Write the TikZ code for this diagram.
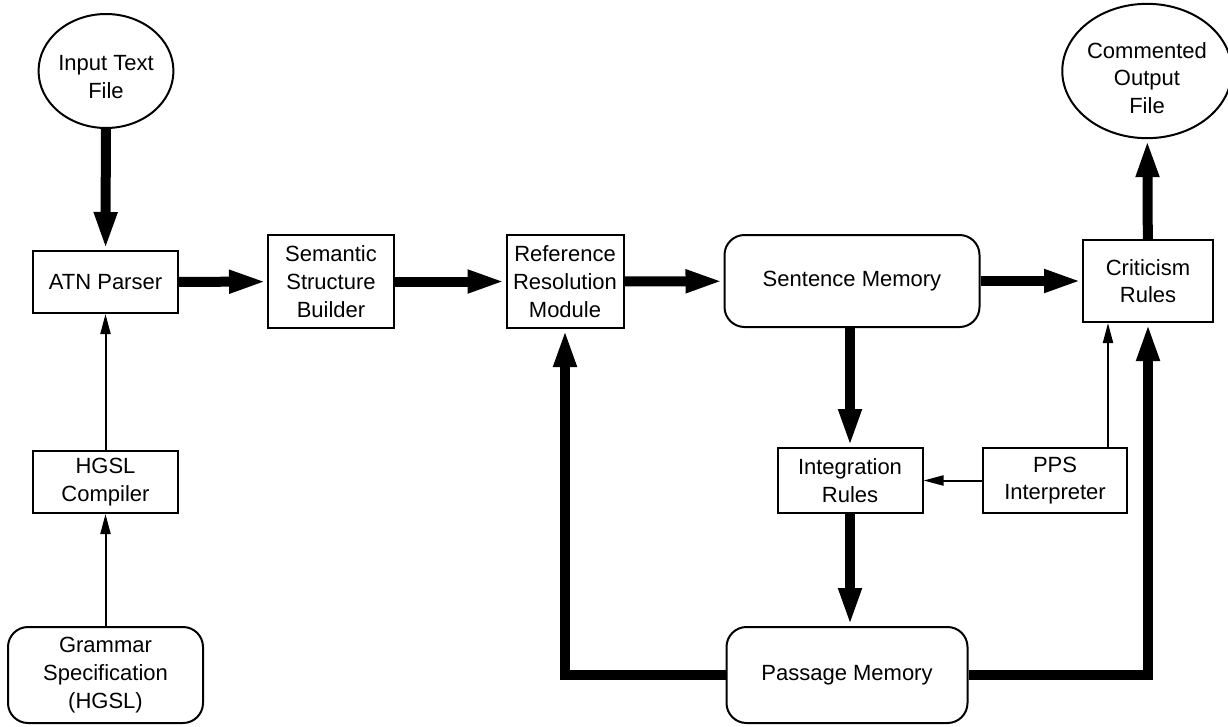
\documentclass[tikz,border=0pt]{standalone}
\usepackage{fontspec}
\setmainfont{Liberation Sans}
\usetikzlibrary{shapes.geometric,arrows.meta}
\tikzset{
  box/.style={draw,line width=2pt,align=center,inner sep=0pt},
  rbox/.style={box,rounded corners=20pt},
  oval/.style={draw,ellipse,line width=2pt,align=center,inner sep=0pt,text depth=5pt},
  bigarrow/.style={line width=10pt,-{Triangle[length=38pt,width=21pt]}},
  thinarrow/.style={line width=2pt,-{Triangle[length=20pt,width=10pt]}}
}
\begin{document}
\begin{tikzpicture}[x=1pt,y=-1pt,font=\fontsize{22}{27.7}\selectfont]
    \useasboundingbox (0,0) rectangle (1228,726);
    \node[oval,minimum width=128pt,minimum height=114pt,text height=60pt] (inp) at (106,71) {Input Text\\File};
    \node[oval,minimum width=158pt,minimum height=132pt,text height=90pt] (out) at (1147,71) {Commented\\Output\\File};
    \node[box,minimum width=145pt,minimum height=62pt] (atn) at (105.5,282) {ATN Parser};
    \node[box,minimum width=126pt,minimum height=93pt] (sem) at (331,281.5) {Semantic\\Structure\\Builder};
    \node[box,minimum width=117pt,minimum height=93pt] (ref) at (565,281.5) {Reference\\Resolution\\Module};
    \node[rbox,minimum width=255pt,minimum height=92pt] (sen) at (852,281) {Sentence Memory};
    \node[box,minimum width=130pt,minimum height=82pt] (crit) at (1148,281) {Criticism\\Rules};
    \node[box,minimum width=145pt,minimum height=62pt] (hgsl) at (105.5,482) {HGSL\\Compiler};
    \node[rbox,minimum width=195pt,minimum height=96pt] (gram) at (105.5,675) {Grammar\\Specification\\(HGSL)};
    \node[box,minimum width=145pt,minimum height=65pt] (integ) at (850,480.5) {Integration\\Rules};
    \node[box,minimum width=144pt,minimum height=65pt] (pps) at (1055,480.5) {PPS\\Interpreter};
    \node[rbox,minimum width=241pt,minimum height=96pt] (pas) at (847,675) {Passage Memory};
    \draw[bigarrow] (inp) -- (atn);
    \draw[bigarrow] (atn) -- (sem);
    \draw[bigarrow] (sem) -- (ref);
    \draw[bigarrow] (ref) -- (sen);
    \draw[bigarrow] (sen) -- (crit);
    \draw[bigarrow] (crit) -- (out);
    \draw[bigarrow] (sen.south -| integ.north) -- (integ);
    \draw[bigarrow] (integ) -- (pas.north -| integ.south);
    \draw[bigarrow] (pas.west) -| (ref.south);
    \draw[bigarrow] (pas.east) -| (crit.south);
    \draw[thinarrow] (gram) -- (hgsl);
    \draw[thinarrow] (hgsl) -- (atn);
    \draw[thinarrow] (pps) -- (integ);
    \coordinate (ppstop) at ([xshift=-20pt]pps.north east);
    \draw[thinarrow] (ppstop) -- (ppstop |- crit.south);
\end{tikzpicture}
\end{document}
